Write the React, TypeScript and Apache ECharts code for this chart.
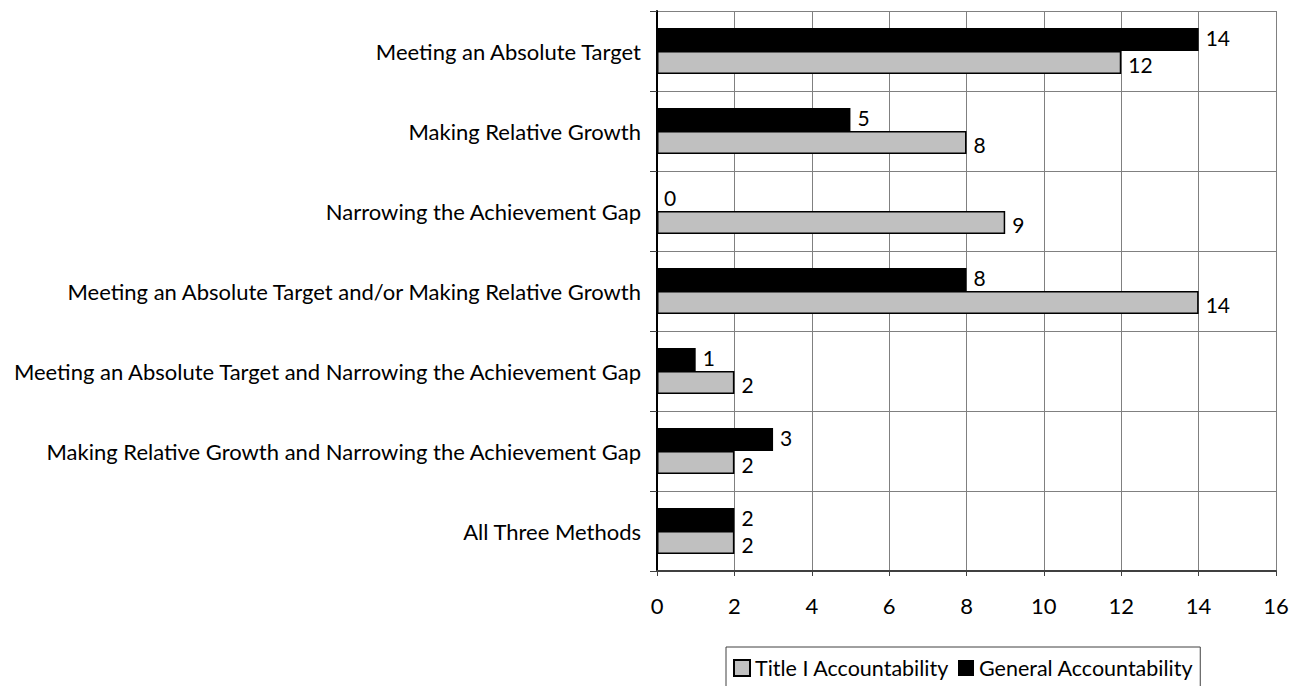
import React, { useEffect, useRef } from "react";
import * as echarts from "echarts";

const categories = [
  "Meeting an Absolute Target",
  "Making Relative Growth",
  "Narrowing the Achievement Gap",
  "Meeting an Absolute Target and/or Making Relative Growth",
  "Meeting an Absolute Target and Narrowing the Achievement Gap",
  "Making Relative Growth and Narrowing the Achievement Gap",
  "All Three Methods",
];
const titleIValues = [12, 8, 9, 14, 2, 2, 2];
const generalValues = [14, 5, 0, 8, 1, 3, 2];
const seriesNames = ["Title I Accountability", "General Accountability"];

const FONT = "Lato";
const FS = 22;

export default function App() {
  const ref = useRef<HTMLDivElement>(null);
  useEffect(() => {
    document.body.style.margin = "0";
    const chart = echarts.init(ref.current!, null, { renderer: "svg" });
    const label = {
      show: true,
      position: "right" as const,
      distance: 7,
      color: "#000",
      fontSize: 21,
      lineHeight: 20,
      fontFamily: FONT,
    };
    chart.setOption({
      animation: false,
      textStyle: { fontFamily: FONT },
      grid: { left: 657, right: 21, top: 11, bottom: 115, containLabel: false },
      legend: {
        data: seriesNames,
        icon: "rect",
        left: 726,
        top: 647,
        orient: "horizontal",
        itemWidth: 16,
        itemHeight: 16,
        itemGap: 9,
        padding: [10, 7, 10, 7],
        borderColor: "#404040",
        borderWidth: 1,
        textStyle: { fontSize: 21.5, fontFamily: FONT, color: "#000" },
      },
      xAxis: {
        type: "value",
        min: 0,
        max: 16,
        interval: 2,
        axisLine: { show: true, lineStyle: { color: "#404040", width: 2 } },
        axisTick: { show: true, length: 5, lineStyle: { color: "#404040", width: 1 } },
        axisLabel: { margin: 23, fontSize: FS, color: "#000", fontFamily: FONT },
        splitLine: { show: true, lineStyle: { color: "#808080", width: 1 } },
      },
      yAxis: {
        type: "category",
        data: categories,
        inverse: true,
        axisLine: { show: true, lineStyle: { color: "#000", width: 2 } },
        axisTick: { show: true, length: 7, inside: false, lineStyle: { color: "#404040", width: 1 } },
        axisLabel: { margin: 16, fontSize: FS, color: "#000", fontFamily: FONT },
        splitLine: { show: true, lineStyle: { color: "#808080", width: 1 } },
      },
      series: [
        {
          name: seriesNames[1],
          type: "bar",
          data: generalValues,
          barWidth: 23,
          barGap: "0%",
          itemStyle: { color: "#000" },
          label: { ...label, offset: [0, -2] },
        },
        {
          name: seriesNames[0],
          type: "bar",
          data: titleIValues,
          barWidth: 23,
          barGap: "0%",
          itemStyle: { color: "#c0c0c0", borderColor: "#000", borderWidth: 1.5 },
          label: { ...label, offset: [0, 2] },
        },
      ],
    });
    return () => chart.dispose();
  }, []);
  return <div ref={ref} style={{ width: 1297, height: 686, position: "absolute", left: 0, top: 0 }} />;
}
